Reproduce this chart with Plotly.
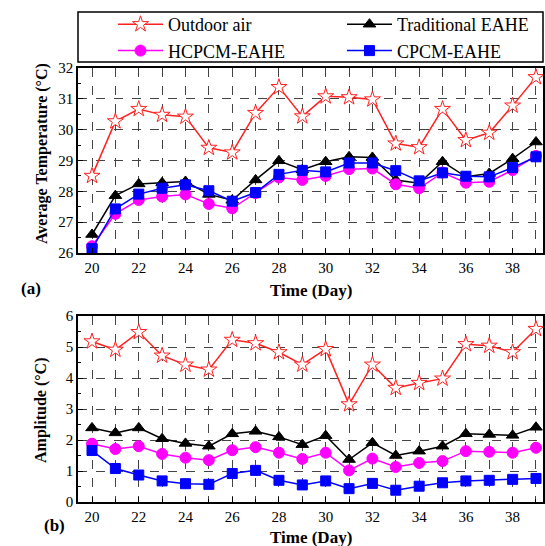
import plotly.graph_objects as go

days = list(range(20, 40))

# (a) Average temperature (°C)
temp_outdoor = [28.5, 30.27, 30.67, 30.48, 30.42, 29.41, 29.26, 30.54, 31.38, 30.43,
                31.08, 31.05, 30.98, 29.55, 29.43, 30.67, 29.66, 29.9, 30.78, 31.7]
temp_trad = [26.6, 27.86, 28.24, 28.28, 28.32, 27.9, 27.71, 28.37, 28.99, 28.7,
             28.96, 29.12, 29.1, 28.37, 28.26, 28.96, 28.47, 28.58, 29.06, 29.6]
temp_hcpcm = [26.22, 27.27, 27.72, 27.83, 27.9, 27.59, 27.45, 27.94, 28.45, 28.37,
              28.5, 28.72, 28.74, 28.23, 28.1, 28.61, 28.28, 28.31, 28.69, 29.15]
temp_cpcm = [26.14, 27.43, 27.91, 28.1, 28.21, 28.02, 27.68, 27.96, 28.55, 28.68,
             28.63, 28.92, 28.92, 28.67, 28.34, 28.6, 28.49, 28.47, 28.77, 29.12]

# (b) Amplitude (°C)
amp_outdoor = [5.18, 4.91, 5.48, 4.72, 4.43, 4.27, 5.23, 5.12, 4.83, 4.43,
               4.93, 3.15, 4.43, 3.68, 3.84, 3.98, 5.09, 5.04, 4.83, 5.58]
amp_trad = [2.39, 2.23, 2.39, 2.04, 1.89, 1.8, 2.2, 2.28, 2.1, 1.85,
            2.14, 1.37, 1.91, 1.5, 1.64, 1.8, 2.2, 2.18, 2.15, 2.41]
amp_hcpcm = [1.88, 1.71, 1.8, 1.55, 1.43, 1.35, 1.67, 1.77, 1.59, 1.39,
             1.59, 1.02, 1.4, 1.13, 1.26, 1.32, 1.64, 1.62, 1.59, 1.75]
amp_cpcm = [1.66, 1.08, 0.87, 0.68, 0.59, 0.57, 0.92, 1.02, 0.7, 0.55,
            0.68, 0.43, 0.6, 0.38, 0.51, 0.62, 0.68, 0.7, 0.73, 0.76]

names = ["Outdoor air", "Traditional EAHE", "HCPCM-EAHE", "CPCM-EAHE"]
colors = ["#ff2020", "#000000", "#ff00ff", "#0000ff"]
symbols = ["star", "triangle-up", "circle", "square"]
sizes = [12, 11, 11, 10]
fills = ["white", "#000000", "#ff00ff", "#0000ff"]
legend_of = ["legend", "legend2", "legend", "legend2"]

FONT = "Liberation Serif, Times New Roman, serif"
W, H = 545, 546
L, R = 78, 2
PW = W - L - R

def py(px):
    return 1 - px / H

def pxx(px):
    return (px - L) / PW

fig = go.Figure()
top_series = [temp_outdoor, temp_trad, temp_hcpcm, temp_cpcm]
bot_series = [amp_outdoor, amp_trad, amp_hcpcm, amp_cpcm]
for i in range(4):
    fig.add_trace(go.Scatter(
        x=days, y=top_series[i], name=names[i], mode="lines+markers",
        line=dict(color=colors[i], width=1.5),
        marker=dict(symbol=symbols[i], size=sizes[i], color=fills[i],
                    line=dict(color=colors[i], width=1)),
        xaxis="x", yaxis="y", legend=legend_of[i], cliponaxis=False))
for i in range(4):
    fig.add_trace(go.Scatter(
        x=days, y=bot_series[i], name=names[i], mode="lines+markers",
        line=dict(color=colors[i], width=1.5),
        marker=dict(symbol=symbols[i], size=sizes[i], color=fills[i],
                    line=dict(color=colors[i], width=1)),
        xaxis="x2", yaxis="y2", showlegend=False, cliponaxis=False))

grid = dict(showgrid=True, gridcolor="#444444", griddash="dash", gridwidth=1)
xcommon = dict(range=[19.4, 39.3], dtick=2, tick0=20, ticks="inside", ticklen=5,
               tickcolor="black", showline=True, linecolor="black", linewidth=1.5,
               mirror=True, zeroline=False, automargin=False,
               tickfont=dict(family=FONT, size=15, color="black"),
               minor=dict(dtick=1, tick0=21, showgrid=True, gridcolor="#444444",
                          griddash="dash", ticks="inside", ticklen=3, tickcolor="black"),
               **grid)
ycommon = dict(dtick=1, ticks="inside", ticklen=5, tickcolor="black",
               showline=True, linecolor="black", linewidth=1.5, mirror=True,
               zeroline=False, automargin=False,
               tickfont=dict(family=FONT, size=15, color="black"),
               minor=dict(dtick=0.5, ticks="inside", ticklen=3, tickcolor="black",
                          showgrid=False),
               **grid)

leg_common = dict(orientation="v", yanchor="top", xanchor="left",
                  bgcolor="rgba(0,0,0,0)", font=dict(family=FONT, size=18, color="black"),
                  tracegroupgap=1, borderwidth=0, itemwidth=45)

fig.update_layout(
    width=W, height=H,
    margin=dict(l=L, r=R, t=0, b=0, autoexpand=False),
    plot_bgcolor="white", paper_bgcolor="white",
    font=dict(family=FONT, size=15, color="black"),
    xaxis=dict(domain=[0, 1], anchor="y", **xcommon),
    yaxis=dict(domain=[py(253), py(68)], range=[26, 32], anchor="x", **ycommon),
    xaxis2=dict(domain=[0, 1], anchor="y2", **xcommon),
    yaxis2=dict(domain=[py(502), py(316)], range=[0, 6], anchor="x2", **ycommon),
    legend=dict(x=pxx(113), y=py(6), **leg_common),
    legend2=dict(x=pxx(342), y=py(6), **leg_common),
    showlegend=True,
)

# legend box
fig.add_shape(type="rect", xref="paper", yref="paper", x0=0, x1=1,
              y0=py(62), y1=py(12), line=dict(color="black", width=1.5))

ann = []
ann.append(dict(text="<b>Time (Day)</b>", x=0.5, y=py(290), xref="paper", yref="paper",
                showarrow=False, font=dict(family=FONT, size=17), yanchor="middle"))
ann.append(dict(text="<b>Time (Day)</b>", x=0.5, y=py(537), xref="paper", yref="paper",
                showarrow=False, font=dict(family=FONT, size=17), yanchor="middle"))
ann.append(dict(text="<b>(a)</b>", x=pxx(19), y=py(288), xref="paper", yref="paper",
                showarrow=False, font=dict(family=FONT, size=17), yanchor="middle"))
ann.append(dict(text="<b>(b)</b>", x=pxx(42), y=py(525), xref="paper", yref="paper",
                showarrow=False, font=dict(family=FONT, size=17), yanchor="middle"))
ann.append(dict(text="<b>Average Temperature (°C)</b>", x=pxx(42), y=py(154),
                xref="paper", yref="paper", showarrow=False, textangle=-90,
                font=dict(family=FONT, size=16), xanchor="center", yanchor="middle"))
ann.append(dict(text="<b>Amplitude (°C)</b>", x=pxx(41), y=py(410),
                xref="paper", yref="paper", showarrow=False, textangle=-90,
                font=dict(family=FONT, size=16), xanchor="center", yanchor="middle"))
fig.update_layout(annotations=ann)

fig.write_html("out.html", config={"displayModeBar": False},
               post_script="document.body.style.margin='0';document.body.style.overflow='hidden';")
